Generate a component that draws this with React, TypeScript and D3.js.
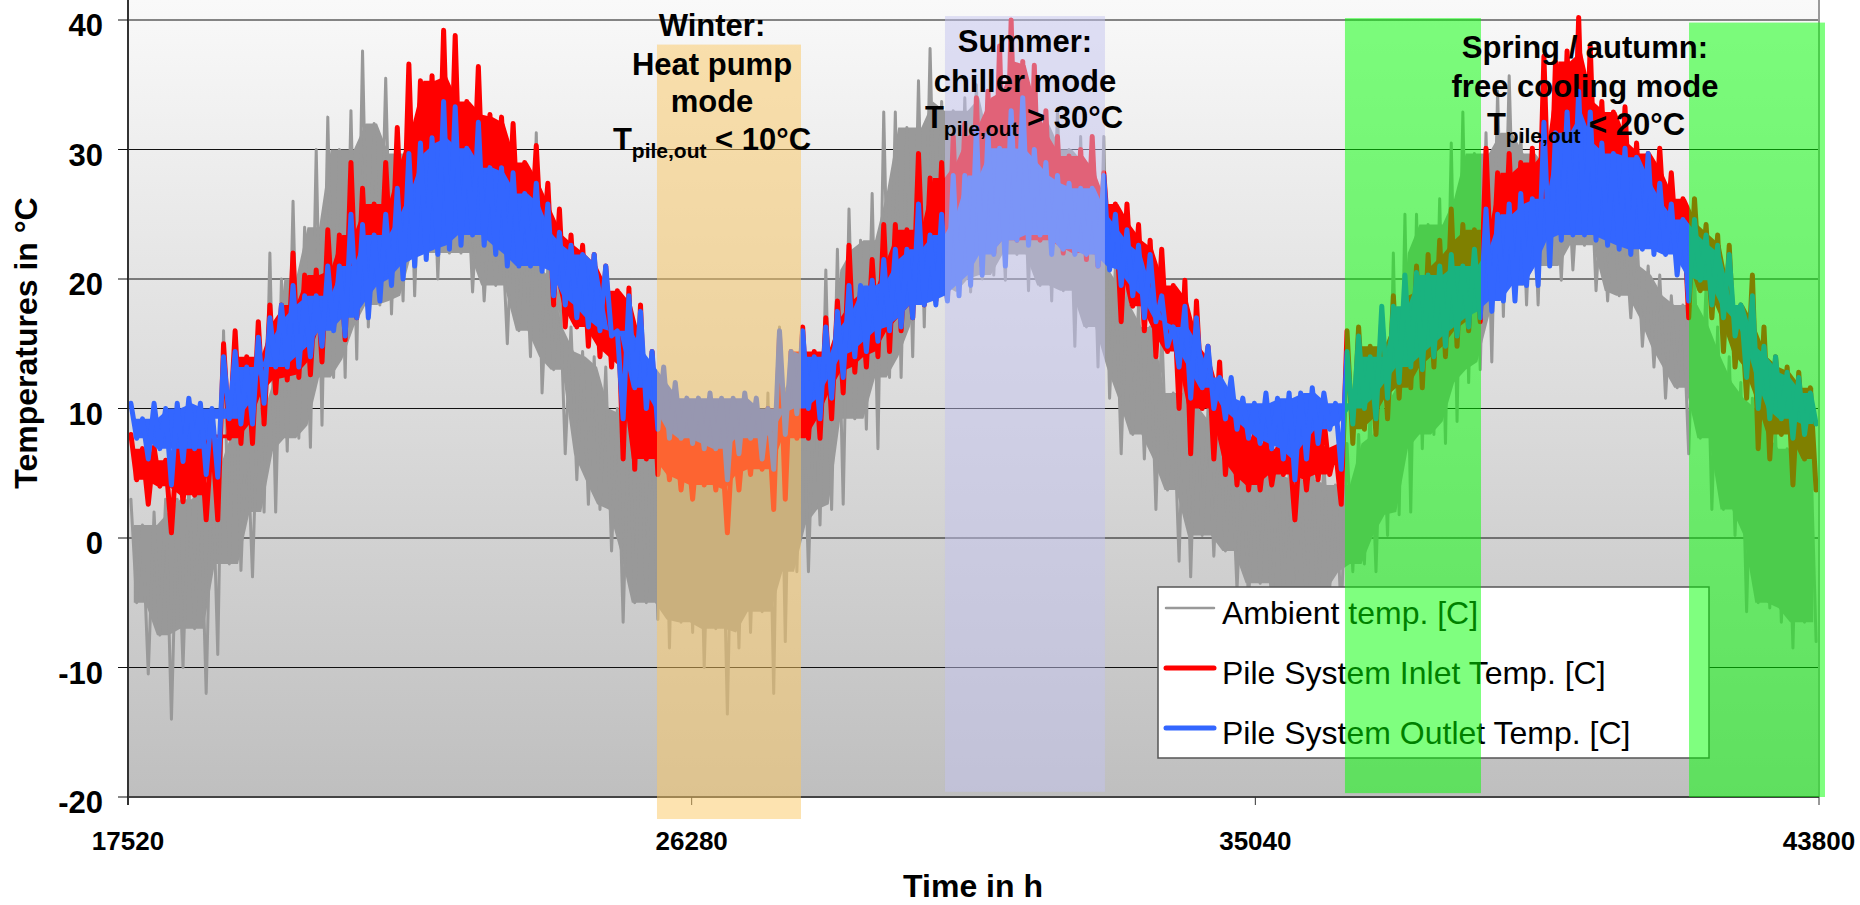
import { scaleLinear, area, line } from "d3";

// hourly simulation, 3 years; values read per 180 h block (max / min of each block)
const HOUR_START = 17520;
const HOUR_END = 43800;

const xTicks = [17520, 26280, 35040, 43800];
const yTicks = [-20, -10, 0, 10, 20, 30, 40];

const ambientHi = [
    3, 1, 2, 3, 3, 4, 4, 7, 16, 14,
    9, 12, 22, 20, 26, 24, 30, 32.5, 30, 33,
    37.6, 32, 35.5, 29.7, 35, 31.7, 33.3, 31.7, 28.6, 29,
    27.4, 25.8, 25, 26, 25, 31.3, 21, 20, 16.3, 14.4,
    14, 13.2, 10, 9.6, 9.2, 10.8, 13.2, 11.6, 10, 9.2,
    6, 6.9, 8, 8.4, 6.5, 11.2, 16.3, 14, 12.8, 12.4,
    20.7, 22.3, 25.4, 23, 26.6, 32.9, 32.9, 31.7, 35.3, 37.8,
    33.7, 33, 34, 35, 34, 30, 36, 33, 35, 32,
    33, 30, 31, 29, 31, 21, 19.5, 18, 16.3, 16.3,
    11.2, 14, 11.6, 10, 8.8, 6.9, 6.1, 5.3, 6.5, 5.7,
    4.9, 4.5, 6.9, 6.1, 4.1, 7.3, 8, 10, 11.6, 22,
    25, 25, 24.2, 26.2, 30.5, 32.9, 29.7, 31.3, 34.5, 35.7,
    31.3, 29.7, 32, 28.6, 29.7, 27.8, 29.7, 26.6, 25.8, 23.8,
    23.8, 21, 20.3, 18.7, 18, 20.3, 19.5, 16.3, 14, 12,
    10.8, 10, 8, 6.9, 9.2, 7.7,
];
const ambientLo = [
    -5, -10.5, -7.5, -14, -10, -7, -12, -9, -2, -2.5,
    -3, 2, 2, 6.7, 7.7, 7, 8.7, 12.4, 12.4, 13.8,
    16.3, 18, 17.3, 18.3, 18.7, 22, 20, 22, 22, 19,
    18.3, 19.5, 15, 16, 14, 11.2, 13, 6.5, 4.5, 2.6,
    2.2, -1, -6.5, -5, -5, -6.3, -8.5, -6.5, -7.3, -10,
    -7, -13.6, -8.5, -7.3, -5.7, -12, -8, -2.6, -2.6, 1,
    2.2, 2.6, 9.2, 8.4, 6.9, 12.4, 12.4, 14, 16.3, 19.5,
    18.3, 19, 19, 20, 20.3, 19.9, 21.9, 19.1, 19.5, 18.3,
    19.1, 14.8, 16.3, 13.2, 10.8, 6.5, 8, 6.1, 2.2, 3.7,
    -1.8, -3, 0.2, -1.4, -1, -4, -5, -3.5, -6, -4.5,
    -7, -5, -6, -4, -6, -2.6, -2, -2.6, 0.2, 1.8,
    2, 6.9, 8, 7.3, 9, 12, 13, 13.6, 17.1, 19.5,
    18, 18, 21, 19.9, 20.7, 22.6, 19.1, 18.3, 18.7, 17,
    14.8, 13.2, 10.8, 11.6, 6.5, 7.7, 2.2, 2.2, 0.2, -5.7,
    -5, -5.4, -6.5, -8.5, -6.5, -8,
];
const inletHi = [
    8, 6.9, 7, 6, 7.3, 7.7, 8, 8, 15, 16,
    14, 16.7, 18, 18, 22, 20.3, 20.7, 23.8, 23.4, 29,
    27, 25.8, 29, 31.7, 36.6, 35.3, 35.7, 39.2, 38.8, 33.7,
    36.4, 32.7, 32.5, 32, 29, 30.3, 27.4, 25.4, 23.4, 22.6,
    21.9, 21, 19.1, 19.3, 18, 14.4, 9.2, 8.8, 7.7, 8,
    8, 7.3, 8.4, 8.8, 10, 10, 15.6, 14.4, 16.3, 14.4,
    17, 18.3, 22.6, 19.1, 21.5, 24.2, 24.2, 23.8, 29.7, 27.8,
    29, 31, 32, 34, 34.5, 38, 40, 36.8, 36.5, 33,
    31, 29.5, 30, 31, 28.2, 25.8, 25.8, 24.2, 23, 22.3,
    19.5, 19.9, 18.3, 14.8, 13.6, 10.4, 9.2, 8, 7.7, 6.9,
    7.3, 8, 8.4, 9.2, 6.9, 16, 16.3, 14.8, 17, 18.7,
    19.1, 21, 21.9, 23, 25.4, 24.2, 23.8, 30.1, 28.2, 29.7,
    29, 30.1, 37.2, 36.8, 37.6, 40.2, 38, 33.7, 32.9, 33.3,
    30.5, 29.7, 30.1, 28.2, 26.2, 26.2, 24.2, 23.4, 22.6, 18,
    20.3, 16.3, 14, 13.2, 12.8, 11.6,
];
const inletLo = [
    4.5, 2.6, 4, 0.4, 2.8, 3.3, 1.4, 1.4, 7.7, 7.3,
    7.3, 8.8, 11.2, 12.2, 12.4, 12.6, 13.6, 16.3, 15.3, 17,
    18, 19.5, 20.5, 21.5, 22.5, 23, 23.5, 24, 24, 25,
    24, 23.5, 23, 22.5, 22.5, 21.9, 18, 16.3, 16.3, 14.8,
    14, 13.2, 6.1, 5.3, 6.1, 4.9, 4.5, 3.7, 3, 4.1,
    3.7, 0.4, 3.7, 4.9, 5.3, 2.2, 3, 7.7, 7.7, 7.7,
    9.2, 11.2, 12.8, 13.2, 14, 14.4, 16, 17, 18, 18.3,
    18.5, 20, 20.5, 21, 22, 22, 23, 23, 23, 22.5,
    22, 22, 21.5, 21, 21.9, 16.7, 17.9, 16, 14, 14.4,
    10, 6.5, 10, 6.1, 4.9, 4.1, 3.7, 3.7, 4.1, 4.9,
    1.4, 3.7, 4.5, 4.9, 2.6, 7.3, 8.4, 8, 9.2, 10.8,
    11.6, 11.6, 13.2, 14, 14.8, 16, 16.7, 19, 19.9, 20,
    21, 21, 22.5, 24.5, 25, 25, 24.5, 24.2, 23.8, 23.4,
    23, 22.6, 22.6, 21.9, 17, 19.1, 17, 14.4, 13.2, 10.8,
    6.9, 6.1, 8, 4.1, 6.1, 3.7,
];
const outletHi = [
    10.4, 9.2, 10.4, 10, 10.4, 10.8, 10.4, 10, 14, 14.4,
    13.2, 15.5, 17, 18, 19.5, 18.7, 18.7, 21, 21, 25,
    24.2, 23.4, 25, 27, 29.7, 30.5, 30.9, 33.7, 33.3, 30.1,
    32.1, 28.6, 28.6, 28.2, 26.6, 27.4, 25.8, 23.6, 22.6, 21.9,
    21.9, 21, 16, 18.7, 17.5, 14.4, 13.2, 12, 10.8, 10.8,
    11.2, 10.8, 10.8, 11.2, 10.8, 10, 16, 14.4, 16, 14,
    16.3, 17.5, 19.5, 19.5, 19.9, 21.5, 22.3, 22.3, 25.8, 23.4,
    25, 28, 28, 31.7, 31.3, 30.1, 33, 34, 30, 29,
    28, 27.4, 27, 27, 28, 25, 23.8, 22.6, 21.9, 18.7,
    16.3, 17.9, 17, 14.8, 12.4, 12.4, 10.8, 10.4, 11.2, 10.8,
    11.2, 11.2, 11.6, 11.2, 10.4, 14.4, 15.6, 14, 17.9, 17.9,
    20.3, 20.5, 20.3, 21, 21.9, 21, 22.3, 25.4, 25, 25.8,
    26.6, 26.2, 32.1, 31.3, 32.9, 34.5, 32.9, 30.5, 29.7, 30.1,
    29.4, 29.7, 27.4, 25.8, 24.6, 24.6, 23.4, 22.6, 21.9, 18,
    18.7, 14.8, 14, 12.8, 12.4, 11.2,
];
const outletLo = [
    7.7, 6.1, 6.9, 4.1, 5.9, 6.9, 4.9, 4.7, 9.2, 8.8,
    8.8, 10.4, 13.2, 13.2, 13.2, 14, 14.8, 16, 15.6, 17,
    17, 18.3, 19.5, 20, 21, 21.5, 21.9, 22.3, 22.6, 23.4,
    22.6, 21.9, 21, 21, 21, 20.6, 18.7, 18, 17, 16.3,
    16, 15.6, 9.2, 11.6, 10, 8.4, 7.7, 7.7, 7.3, 6.9,
    6.9, 4.5, 6.5, 7.7, 6.1, 5.3, 8, 9.6, 10, 9.2,
    10.8, 12.4, 14, 14.4, 15.2, 16, 16.3, 17, 18, 18,
    18.3, 18.7, 19.5, 20.3, 21.9, 21, 23, 22.6, 23.4, 21.9,
    22.3, 21.9, 21.9, 21, 20.7, 19.5, 18.7, 17, 16.7, 14.8,
    13.2, 10.8, 11.6, 10, 9.2, 8.4, 7.7, 7.3, 6.9, 6.1,
    4.5, 6.1, 7.3, 8.4, 5.3, 8.8, 10, 9.2, 10.8, 12,
    13.2, 13, 14, 14.8, 15.6, 16.3, 17, 17.5, 18.3, 18.3,
    19.5, 19.5, 21, 23, 23.4, 23.4, 23, 22.6, 22.3, 21.9,
    22.3, 21.9, 21.9, 20.3, 18.3, 19.9, 18, 17, 15.6, 12.4,
    10, 9.2, 9.2, 7.7, 8, 8.8,
];

const seriesLabels = [
    "Ambient temp. [C]",
    "Pile System Inlet Temp. [C]",
    "Pile System Outlet Temp. [C]",
];

// operating mode periods (hours, °C)
const bandStart = [25741, 30217, 36433, 41780];
const bandEnd = [27979, 32703, 38547, 43893];
const bandTop = [38.1, 40.3, 40.15, 39.8];
const bandBottom = [-21.7, -19.6, -19.7, -20];

const winterLines = ["Winter:", "Heat pump", "mode"];
const summerLines = ["Summer:", "chiller mode"];
const springLines = ["Spring / autumn:", "free cooling mode"];

const FONT = '"Liberation Sans", Arial, Helvetica, sans-serif';

const BAND_COLORS = ["rgb(251,199,97)", "rgb(196,196,240)", "rgb(0,255,0)", "rgb(0,255,0)"];
const SERIES_STYLE = [
    { color: "#999999", width: 3, legendWidth: 2.5 },
    { color: "#ff0000", width: 5, legendWidth: 5 },
    { color: "#3366ff", width: 5, legendWidth: 5 },
];

type Row = { h: number; hi: number; lo: number };

function toRows(hi: number[], lo: number[]): Row[] {
    const step = (HOUR_END - HOUR_START) / hi.length;
    return hi.map((v, i) => ({ h: HOUR_START + (i + 0.5) * step, hi: v, lo: lo[i] }));
}

// solid core of the trace: the range that neighbouring blocks all cover
function coreOf(rows: Row[]) {
    return rows.map((r, i) => {
        const nb = rows.slice(Math.max(0, i - 1), i + 2);
        const bottom = Math.max(...nb.map((d) => d.lo));
        const top = Math.max(Math.min(...nb.map((d) => d.hi)), bottom);
        return { h: r.h, top, bottom };
    });
}

function TLine({ cx, y, rest }: { cx: number; y: number; rest: string }) {
    return (
        <text
            x={cx}
            y={y}
            textAnchor="middle"
            fontFamily={FONT}
            fontWeight="bold"
            fontSize={31}
            style={{ whiteSpace: "pre" }}
        >
            <tspan>T</tspan>
            <tspan fontSize={21} dy={8}>
                pile,out
            </tspan>
            <tspan dy={-8}>{" " + rest}</tspan>
        </text>
    );
}

export default function App() {
    const plotLeft = 128;
    const plotRight = 1819;
    const plotBottom = 797;

    const x = scaleLinear().domain([HOUR_START, HOUR_END]).range([plotLeft, plotRight]);
    const y = scaleLinear().domain([-20, 40]).range([plotBottom, 20]);
    const quarter = (HOUR_END - HOUR_START) / ambientHi.length / 4;

    const coreArea = area<{ h: number; top: number; bottom: number }>()
        .x((d) => x(d.h))
        .y0((d) => y(d.bottom))
        .y1((d) => y(d.top));

    const trace = line<[number, number]>()
        .x((d) => x(d[0]))
        .y((d) => y(d[1]));

    const series = [
        toRows(ambientHi, ambientLo),
        toRows(inletHi, inletLo),
        toRows(outletHi, outletLo),
    ];

    const bandRect = (i: number) => (
        <rect
            key={i}
            x={x(bandStart[i])}
            y={y(bandTop[i])}
            width={x(bandEnd[i]) - x(bandStart[i])}
            height={y(bandBottom[i]) - y(bandTop[i])}
            fill={BAND_COLORS[i]}
            fillOpacity={0.5}
        />
    );

    const legendX = 1158;
    const legendY = 587;
    const legendRows = [608, 668, 728];

    return (
        <svg
            width={1860}
            height={905}
            style={{ position: "absolute", left: 0, top: 0, background: "#fff" }}
        >
            <defs>
                <linearGradient id="plotBg" x1="0" y1="0" x2="0" y2="1">
                    <stop offset="0%" stopColor="#f9f9f9" />
                    <stop offset="100%" stopColor="#bfbfbf" />
                </linearGradient>
                <clipPath id="plotClip">
                    <rect x={plotLeft} y={0} width={plotRight - plotLeft} height={plotBottom} />
                </clipPath>
            </defs>

            {/* plot background */}
            <rect x={plotLeft} y={0} width={plotRight - plotLeft} height={plotBottom} fill="url(#plotBg)" />

            {/* grid */}
            {yTicks.slice(1).map((t) => (
                <line key={t} x1={plotLeft} x2={plotRight} y1={y(t)} y2={y(t)} stroke="#111" strokeWidth={1} />
            ))}

            {/* series: solid core + block max/min trace */}
            <g clipPath="url(#plotClip)">
                {series.map((rows, i) => {
                    const pts: [number, number][] = rows.flatMap((r) => [
                        [r.h - quarter, r.hi],
                        [r.h + quarter, r.lo],
                    ] as [number, number][]);
                    return (
                        <g key={i}>
                            <path d={coreArea(coreOf(rows)) ?? ""} fill={SERIES_STYLE[i].color} />
                            <path
                                d={trace(pts) ?? ""}
                                fill="none"
                                stroke={SERIES_STYLE[i].color}
                                strokeWidth={SERIES_STYLE[i].width}
                                strokeLinejoin="round"
                                strokeLinecap="round"
                            />
                        </g>
                    );
                })}
            </g>

            {/* axes */}
            <line x1={plotRight} x2={plotRight} y1={0} y2={plotBottom} stroke="#9a9a9a" strokeWidth={2} />
            <line x1={plotLeft} x2={plotRight} y1={plotBottom} y2={plotBottom} stroke="#444" strokeWidth={2} />
            <line x1={plotLeft} x2={plotLeft} y1={0} y2={plotBottom + 8} stroke="#333" strokeWidth={2} />
            {yTicks.map((t) => (
                <g key={t}>
                    <line x1={plotLeft - 10} x2={plotLeft} y1={y(t)} y2={y(t)} stroke="#111" strokeWidth={1} />
                    <text
                        x={103}
                        y={y(t) + 16}
                        textAnchor="end"
                        fontFamily={FONT}
                        fontWeight="bold"
                        fontSize={31}
                    >
                        {t}
                    </text>
                </g>
            ))}
            {xTicks.map((t) => (
                <g key={t}>
                    <line x1={x(t)} x2={x(t)} y1={plotBottom} y2={plotBottom + 8} stroke="#333" strokeWidth={1} />
                    <text x={x(t)} y={850} textAnchor="middle" fontFamily={FONT} fontWeight="bold" fontSize={26}>
                        {t}
                    </text>
                </g>
            ))}

            {/* winter + summer periods */}
            {[0, 1].map(bandRect)}

            {/* legend */}
            <rect x={legendX} y={legendY} width={551} height={171} fill="#fff" stroke="#555" strokeWidth={1.5} />
            {seriesLabels.map((lab, i) => (
                <g key={lab}>
                    <line
                        x1={1166}
                        x2={1214}
                        y1={legendRows[i]}
                        y2={legendRows[i]}
                        stroke={SERIES_STYLE[i].color}
                        strokeWidth={SERIES_STYLE[i].legendWidth}
                        strokeLinecap="round"
                    />
                    <text x={1222} y={legendRows[i] + 16} fontFamily={FONT} fontSize={32}>
                        {lab}
                    </text>
                </g>
            ))}

            {/* spring / autumn periods */}
            {[2, 3].map(bandRect)}

            {/* annotations */}
            {winterLines.map((s, i) => (
                <text key={s} x={712} y={[36, 75, 112][i]} textAnchor="middle" fontFamily={FONT} fontWeight="bold" fontSize={31}>
                    {s}
                </text>
            ))}
            <TLine cx={712} y={150} rest="< 10°C" />
            {summerLines.map((s, i) => (
                <text key={s} x={1025} y={[52, 92][i]} textAnchor="middle" fontFamily={FONT} fontWeight="bold" fontSize={31}>
                    {s}
                </text>
            ))}
            <TLine cx={1024} y={128} rest="> 30°C" />
            {springLines.map((s, i) => (
                <text key={s} x={1585} y={[58, 97][i]} textAnchor="middle" fontFamily={FONT} fontWeight="bold" fontSize={31}>
                    {s}
                </text>
            ))}
            <TLine cx={1586} y={135} rest="< 20°C" />

            {/* axis titles */}
            <text
                transform="translate(37,343) rotate(-90)"
                textAnchor="middle"
                fontFamily={FONT}
                fontWeight="bold"
                fontSize={32}
            >
                Temperatures in °C
            </text>
            <text x={973} y={897} textAnchor="middle" fontFamily={FONT} fontWeight="bold" fontSize={32}>
                Time in h
            </text>
        </svg>
    );
}
